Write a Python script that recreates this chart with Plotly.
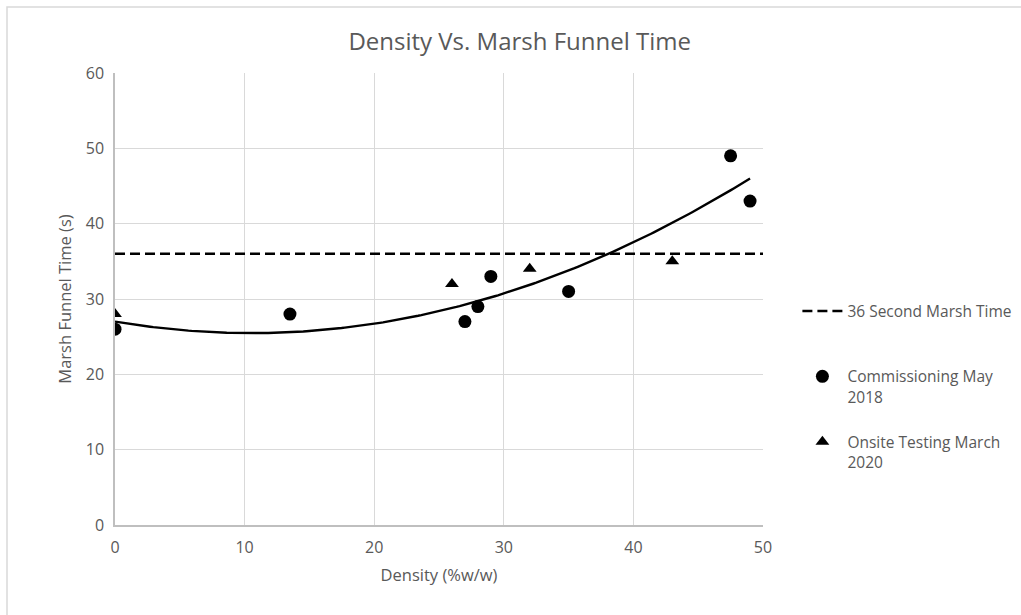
import numpy as np
import plotly.graph_objects as go

# Commissioning May 2018
comm_density = [0, 13.5, 27, 28, 29, 35, 47.5, 49]
comm_time = [26, 28, 27, 29, 33, 31, 49, 43]

# Onsite Testing March 2020
onsite_density = [0, 26, 32, 43]
onsite_time = [28, 32, 34, 35]

# Reference marsh time
limit_time = 36
x_range = [0, 50]

# Second-order trendline coefficients (c0, c1, c2) and its x extent
trend_coef = [27.0, -0.291, 0.01385]
trend_span = [0, 49]

trend_x = np.linspace(trend_span[0], trend_span[1], 200)
trend_y = trend_coef[0] + trend_coef[1] * trend_x + trend_coef[2] * trend_x ** 2

GRAY = "#595959"
FONT = "Open Sans"

fig = go.Figure()

fig.add_trace(go.Scatter(
    x=x_range, y=[limit_time, limit_time], mode="lines",
    line=dict(color="black", width=2.6, dash="10px,5px"),
    name="36 Second Marsh Time<br> ", legendgroup="a",
))
fig.add_trace(go.Scatter(
    x=trend_x, y=trend_y, mode="lines",
    line=dict(color="black", width=2.4),
    showlegend=False, hoverinfo="skip",
))
fig.add_trace(go.Scatter(
    x=comm_density, y=comm_time, mode="markers",
    marker=dict(symbol="circle", color="black", size=13),
    name="Commissioning May<br>2018", legendgroup="b",
))
fig.add_trace(go.Scatter(
    x=onsite_density, y=onsite_time, mode="markers",
    marker=dict(symbol="triangle-up", color="black", size=12),
    name="Onsite Testing March<br>2020", legendgroup="c",
))

axis_common = dict(
    showgrid=True, gridcolor="#d9d9d9", gridwidth=1,
    showline=True, linecolor="#bfbfbf", linewidth=1.5,
    zeroline=False, ticks="",
    tickfont=dict(family=FONT, size=16, color=GRAY),
)

fig.update_layout(
    width=1021, height=615,
    margin=dict(l=115, r=258, t=73, b=90, autoexpand=False),
    paper_bgcolor="white", plot_bgcolor="white",
    font=dict(family=FONT, color=GRAY),
    title=dict(
        text="Density Vs. Marsh Funnel Time",
        x=0.509, xref="container", xanchor="center",
        y=0.932, yref="container", yanchor="middle",
        font=dict(family=FONT, size=24, color=GRAY),
    ),
    xaxis=dict(
        range=x_range, dtick=10, ticklabelstandoff=7,
        title=dict(text="Density (%w/w)", font=dict(family=FONT, size=16.5, color=GRAY), standoff=12),
        **axis_common,
    ),
    yaxis=dict(
        range=[0, 60], dtick=10, ticklabelstandoff=6,
        title=dict(text="Marsh Funnel Time (s)", font=dict(family=FONT, size=16.5, color=GRAY), standoff=10),
        **axis_common,
    ),
    legend=dict(
        x=0.781, xref="container", xanchor="left",
        y=0.51, yanchor="top",
        font=dict(family=FONT, size=15.5, color=GRAY),
        tracegroupgap=22, itemwidth=40, valign="top",
        bgcolor="rgba(0,0,0,0)",
    ),
    showlegend=True,
)

# Outer chart border
fig.add_shape(
    type="rect", xref="paper", yref="paper",
    x0=(7 - 115) / 648, x1=(1040 - 115) / 648,
    y0=(525 - 640) / 452, y1=(525 - 7) / 452,
    line=dict(color="#d9d9d9", width=1.5), layer="below",
)

fig.write_html("out.html")
